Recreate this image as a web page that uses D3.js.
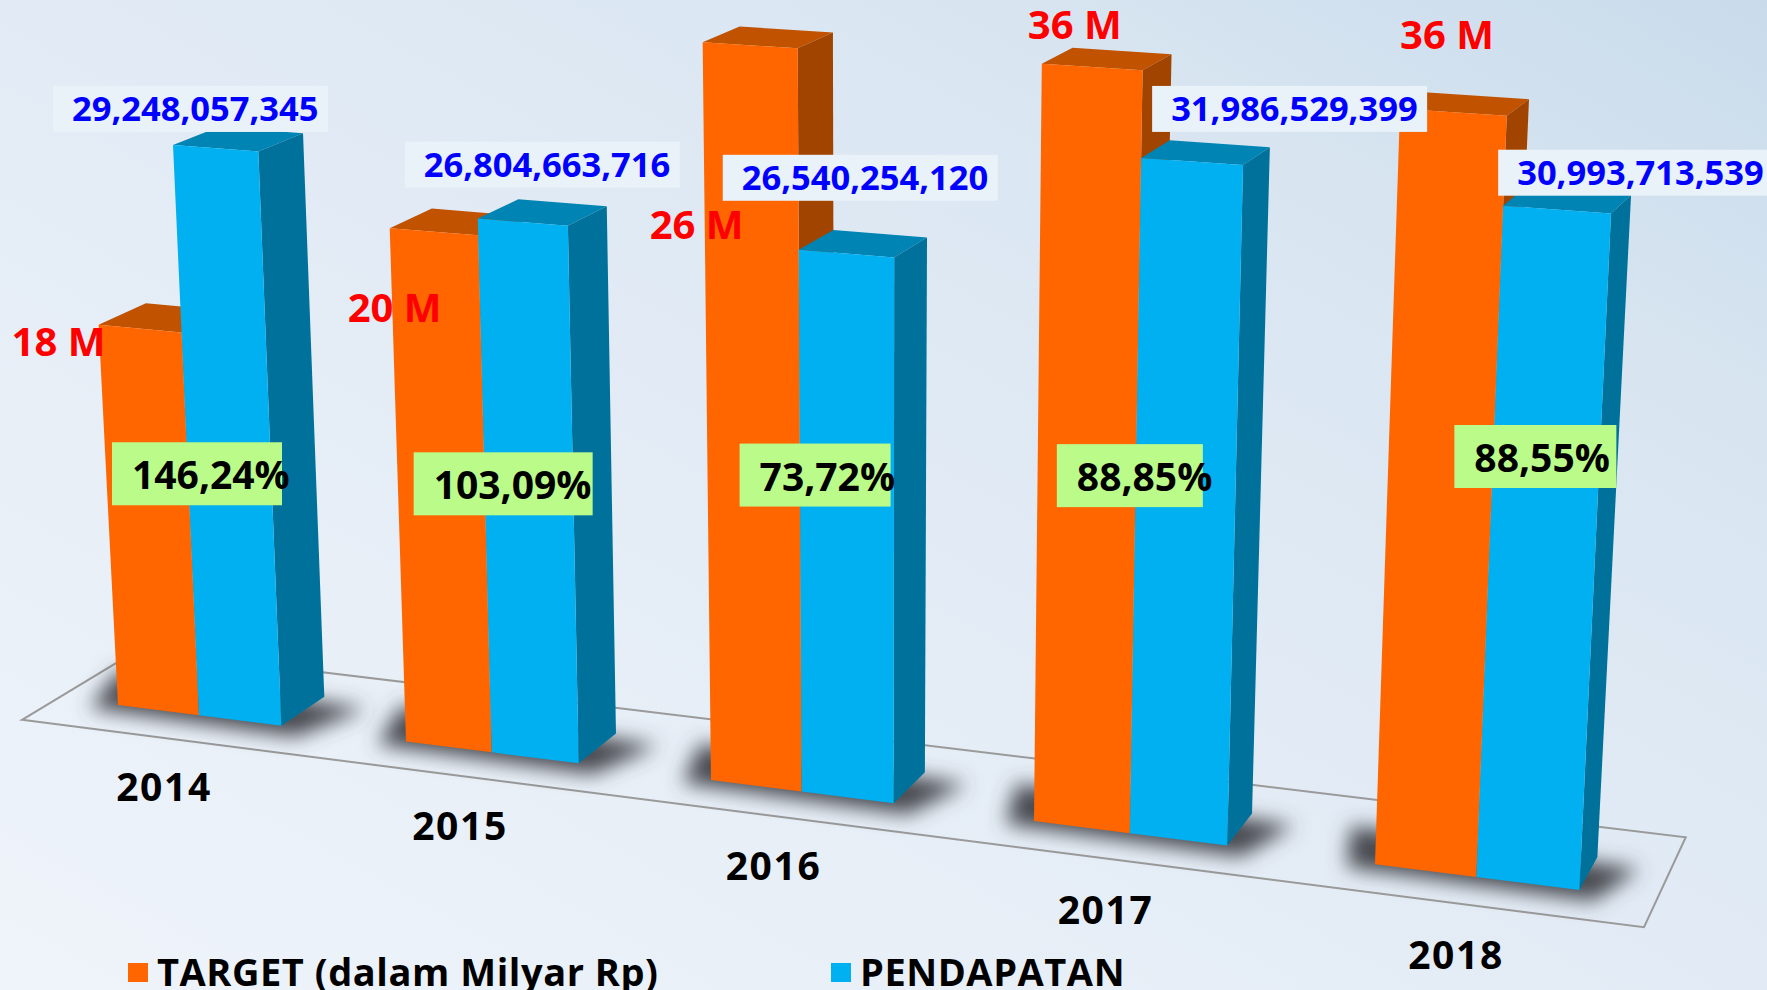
<!DOCTYPE html>
<html><head><meta charset="utf-8">
<script src="https://cdn.jsdelivr.net/npm/d3@7"></script>
<style>html,body{margin:0;padding:0;overflow:hidden;background:#e4edf6}svg{display:block}
text{font-family:"Open Sans",sans-serif;font-weight:700}</style></head><body>
<script>
// ---- data ----
const years = ["2014","2015","2016","2017","2018"];
const targetValues = [20, 26, 36, 36, 35];            // plotted target, Milyar Rp
const pendapatanValues = [29.248057345, 26.804663716, 26.540254120, 31.986529399, 30.993713539]; // Milyar Rp
const targetLabels = ["18 M","20 M","26 M","36 M","36 M"];
const pendapatanLabels = ["29,248,057,345","26,804,663,716","26,540,254,120","31,986,529,399","30,993,713,539"];
const ratioLabels = ["146,24%","103,09%","73,72%","88,85%","88,55%"];
const seriesNames = ["TARGET (dalam Milyar Rp)","PENDAPATAN"];

// ---- layout (annotation offsets, relative to the bars they belong to) ----
const W = 1767, H = 990;
const pendLabelOffset = [[-120,-59],[-73,-77],[-76,-95],[11,-72],[-5,-56]];
const targLabelOffset = [[-87,31],[-42,94],[-53,197],[-14,-25],[0,-60]];
const ratioBoxOffset = [[-87,-273],[-78,-300],[-62,-348],[-73,-389],[-22,-452]];
const ratioBoxWidth = [170,179,151,146,162];
const colors = {
  target:{front:"#FF6600",top:"#C05200",side:"#A04400"},
  pend:{front:"#00B0F0",top:"#0084B4",side:"#00719B"}
};

// ---- perspective scales ----
const groupX = d3.scaleLinear().domain([0,1,2,3,4]).range([118,406,711,1034,1375]);
const barW = d3.scaleLinear().domain([118,1476]).range([81,103]);
const baseY = d3.scaleLinear().domain([118,1579]).range([705,890]);
const unitH = d3.scaleLinear().domain([118,1476]).range([19.4,21.65]);
const valueAxis = d3.scaleLinear().domain([0,20,36]).range([0,19.6,36.2]);
const lean = d3.scaleLinear().domain([118,880]).range([-0.051,0]);
const depthX = d3.scaleLinear().domain([281,1579]).range([43,18]);
const depthY = d3.scaleLinear().domain([281,1579]).range([29,33]);
const tickDX = d3.scaleLinear().domain([118,1375]).range([46,81]);
const tickDY = d3.scaleLinear().domain([118,1375]).range([96,105]);

function P(xf, value, depth){
  const h = unitH(xf)*valueAxis(value);
  return [
    xf + lean(xf)*h + depth*(depthX(xf)+0.003*h),
    baseY(xf) - h - depth*depthY(xf)*(1-0.00065*h)
  ];
}
const path = d3.line();
const svg = d3.select("body").append("svg").attr("width",W).attr("height",H).attr("viewBox",`0 0 ${W} ${H}`);
const defs = svg.append("defs");
const grad = defs.append("linearGradient").attr("id","bg").attr("x1",1).attr("y1",0).attr("x2",0).attr("y2",1);
[[0,"#c9dbeb"],[0.22,"#d8e5f1"],[0.5,"#e2ebf5"],[1,"#eff4fa"]].forEach(s=>grad.append("stop").attr("offset",s[0]).attr("stop-color",s[1]));
defs.append("filter").attr("id","blur").attr("x","-30%").attr("y","-60%").attr("width","160%").attr("height","220%")
  .append("feGaussianBlur").attr("stdDeviation",10);
svg.append("rect").attr("width",W).attr("height",H).attr("fill","url(#bg)");

// floor
const floorL = 22, floorR = 1644, floorDrop = 27;
const floorPts = [[floorL,baseY(floorL)+floorDrop],[floorR,baseY(floorR)+floorDrop+2],
  [floorR+depthX(floorR)+25, baseY(floorR)+floorDrop-88],[floorL+116, baseY(floorL)+floorDrop-70]];
svg.append("path").attr("d",path(floorPts)+"Z").attr("fill","none").attr("stroke","#9a9a9a").attr("stroke-width",2);

// bars
const groups = years.map((y,i)=>{
  const x0 = groupX(i), x1 = x0+barW(x0), x2 = x1+barW(x1);
  return {i,y,x0,x1,x2};
});
// shadows
svg.append("g").selectAll("path").data(groups).join("path")
  .attr("filter","url(#blur)").attr("fill","#47484f")
  .attr("d",g=>{
    const a=P(g.x0,0,0),b=P(g.x2,0,0),c=P(g.x2,0,1),d=P(g.x0,0,1);
    return path([[a[0]-28,a[1]+3],[b[0]+14,b[1]+11],[c[0]+42,c[1]+12],[d[0]-46,d[1]-6]])+"Z";
  });

function bar(sel,xa,xb,v,c){
  const g = sel.append("g");
  g.append("path").attr("fill",c.top).attr("d",path([P(xa,v,0),P(xb,v,0),P(xb,v,1),P(xa,v,1)])+"Z");
  g.append("path").attr("fill",c.side).attr("d",path([P(xb,v,0),P(xb,v,1),P(xb,0,1),P(xb,0,0)])+"Z");
  g.append("path").attr("fill",c.front).attr("d",path([P(xa,v,0),P(xb,v,0),P(xb,0,0),P(xa,0,0)])+"Z");
}
const barsG = svg.append("g");
groups.forEach(g=>{
  bar(barsG,g.x0,g.x1,targetValues[g.i],colors.target);
  bar(barsG,g.x1,g.x2,pendapatanValues[g.i],colors.pend);
});

// category labels
svg.append("g").selectAll("text").data(groups).join("text")
  .attr("x",g=>g.x0+tickDX(g.x0)).attr("y",g=>baseY(g.x0)+tickDY(g.x0))
  .attr("text-anchor","middle").attr("font-size",39).attr("fill","#000").attr("letter-spacing",1.6)
  .text(g=>g.y);

// ratio labels
const rG = svg.append("g");
rG.selectAll("rect").data(groups).join("rect")
  .attr("x",g=>g.x1+ratioBoxOffset[g.i][0]).attr("y",g=>baseY(g.x1)+ratioBoxOffset[g.i][1])
  .attr("width",g=>ratioBoxWidth[g.i]).attr("height",63).attr("fill","#BBFB8A");
rG.selectAll("text").data(groups).join("text")
  .attr("x",g=>g.x1+ratioBoxOffset[g.i][0]+20).attr("y",g=>baseY(g.x1)+ratioBoxOffset[g.i][1]+47)
  .attr("font-size",39).attr("fill","#000").text(g=>ratioLabels[g.i]);

// target labels
svg.append("g").selectAll("text").data(groups).join("text")
  .attr("x",g=>P(g.x0,targetValues[g.i],0)[0]+targLabelOffset[g.i][0])
  .attr("y",g=>P(g.x0,targetValues[g.i],0)[1]+targLabelOffset[g.i][1])
  .attr("font-size",40).attr("fill","#FF0000").text(g=>targetLabels[g.i]);

// pendapatan labels
const pG = svg.append("g");
pG.selectAll("rect").data(groups).join("rect")
  .attr("x",g=>P(g.x1,pendapatanValues[g.i],0)[0]+pendLabelOffset[g.i][0])
  .attr("y",g=>P(g.x1,pendapatanValues[g.i],0)[1]+pendLabelOffset[g.i][1])
  .attr("width",275).attr("height",46).attr("fill","#E9F1F9");
pG.selectAll("text").data(groups).join("text")
  .attr("x",g=>P(g.x1,pendapatanValues[g.i],0)[0]+pendLabelOffset[g.i][0]+19)
  .attr("y",g=>P(g.x1,pendapatanValues[g.i],0)[1]+pendLabelOffset[g.i][1]+35)
  .attr("font-size",34.5).attr("fill","#0000FF").text(g=>pendapatanLabels[g.i]);

// legend
const legend = svg.append("g");
const legendX = d3.scaleOrdinal().domain(seriesNames).range([128,831]);
const legendC = d3.scaleOrdinal().domain(seriesNames).range([colors.target.front,colors.pend.front]);
legend.selectAll("rect").data(seriesNames).join("rect")
  .attr("x",d=>legendX(d)).attr("y",963).attr("width",20).attr("height",19).attr("fill",d=>legendC(d));
legend.selectAll("text").data(seriesNames).join("text")
  .attr("x",d=>legendX(d)+29).attr("y",986).attr("font-size",38).attr("letter-spacing",0.55).attr("fill","#000").text(d=>d);
</script></body></html>
